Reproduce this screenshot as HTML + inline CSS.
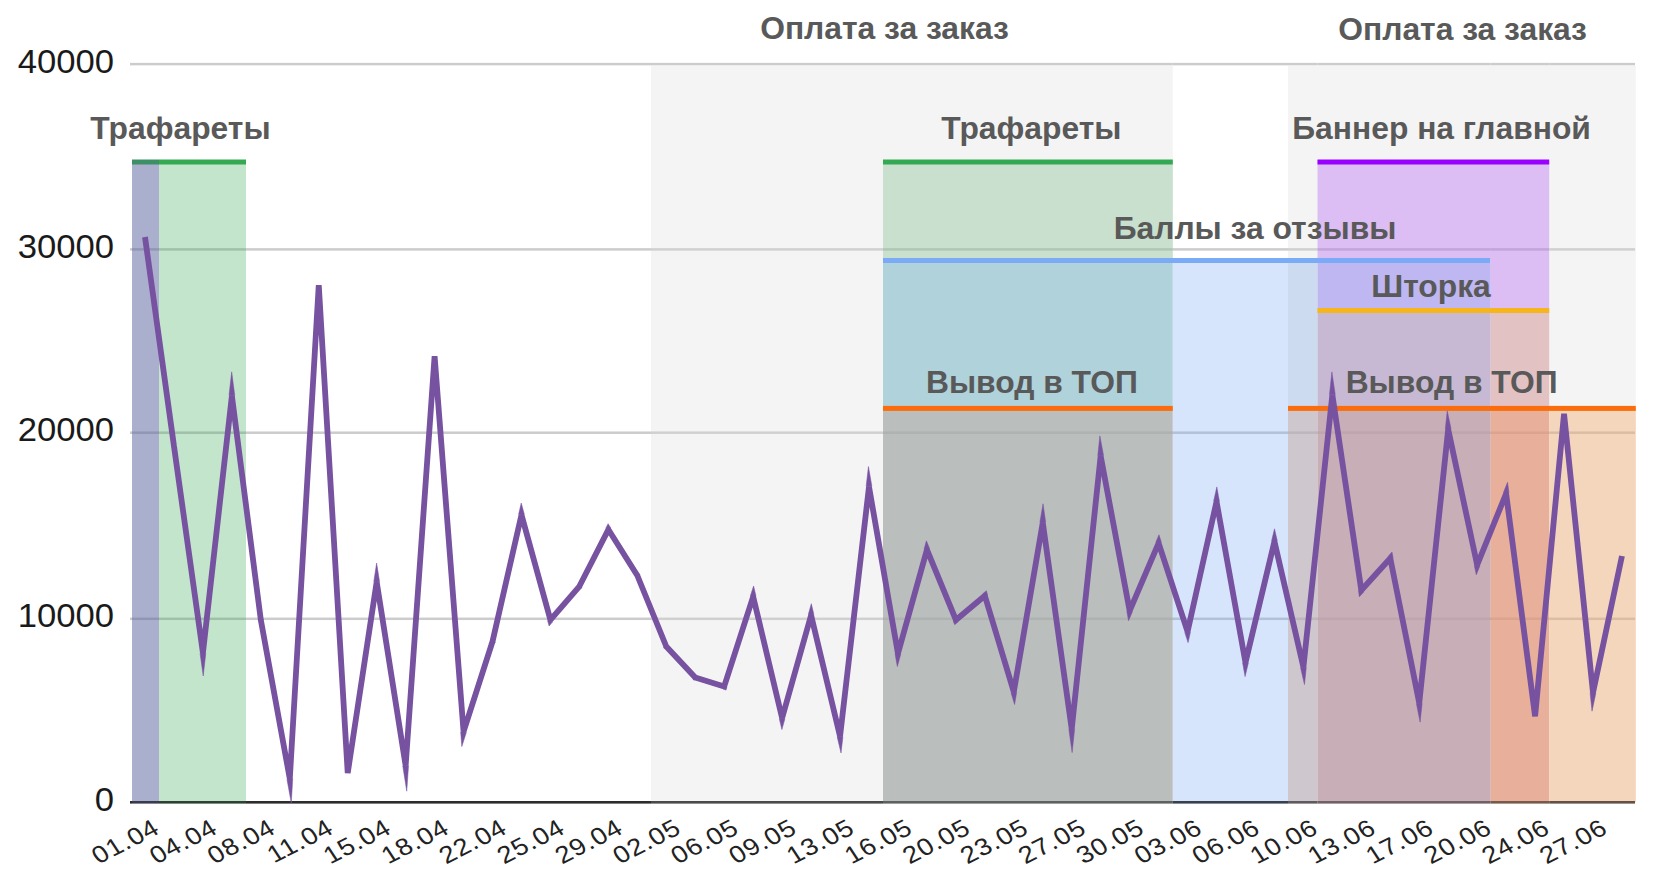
<!DOCTYPE html>
<html><head><meta charset="utf-8"><style>
html,body{margin:0;padding:0;background:#fff;width:1658px;height:877px;overflow:hidden}
svg{display:block}
.ax text{font-family:"Liberation Sans",sans-serif;font-size:33px;fill:#1a1a1a}
.xl text{font-size:24px;letter-spacing:0.75px;fill:#222}
.tt text{font-family:"Liberation Sans",sans-serif;font-size:31.8px;font-weight:bold;fill:#595959}
</style></head><body>
<svg width="1658" height="877" viewBox="0 0 1658 877">
<defs><clipPath id="clip"><rect x="0" y="0" width="1658" height="803"/></clipPath></defs>
<rect width="1658" height="877" fill="#fff"/>
<g><rect x="132" y="162" width="27" height="640" fill="#abafce"/>
<rect x="159" y="162" width="87" height="640" fill="#c3e5cc"/>
<rect x="651" y="66" width="521.8" height="736" fill="#f4f4f4"/>
<rect x="1288" y="66" width="347.79999999999995" height="736" fill="#f4f4f4"/>
<rect x="883" y="162" width="289.79999999999995" height="98" fill="#c8e0cd"/>
<rect x="883" y="260" width="289.79999999999995" height="148" fill="#b0d2db"/>
<rect x="883" y="408" width="289.79999999999995" height="394" fill="#babebd"/>
<rect x="1172.8" y="260" width="115.20000000000005" height="542" fill="#d7e5fc"/>
<rect x="1288" y="260" width="29.5" height="148" fill="#ccdbf0"/>
<rect x="1288" y="408" width="29.5" height="394" fill="#cec7ce"/>
<rect x="1317.5" y="160" width="231.70000000000005" height="100" fill="#dcbdf4"/>
<rect x="1317.5" y="260" width="173.20000000000005" height="50" fill="#bfb7f1"/>
<rect x="1490.7" y="260" width="58.5" height="50" fill="#dcbdf4"/>
<rect x="1317.5" y="310" width="173.20000000000005" height="98" fill="#c7b9d3"/>
<rect x="1317.5" y="408" width="173.20000000000005" height="394" fill="#c8aeb6"/>
<rect x="1490.7" y="310" width="58.5" height="98" fill="#e3c2c4"/>
<rect x="1490.7" y="408" width="58.5" height="394" fill="#e8b09a"/>
<rect x="1549.2" y="408" width="86.59999999999991" height="394" fill="#f4d6bd"/></g>
<g><rect x="130" y="62.85" width="2" height="2.5" fill="rgb(204, 204, 204)"/>
<rect x="132" y="62.85" width="27" height="2.5" fill="rgb(204, 204, 204)"/>
<rect x="159" y="62.85" width="87" height="2.5" fill="rgb(204, 204, 204)"/>
<rect x="246" y="62.85" width="405" height="2.5" fill="rgb(204, 204, 204)"/>
<rect x="651" y="62.85" width="232" height="2.5" fill="rgb(204, 204, 204)"/>
<rect x="883" y="62.85" width="289.79999999999995" height="2.5" fill="rgb(204, 204, 204)"/>
<rect x="1172.8" y="62.85" width="115.20000000000005" height="2.5" fill="rgb(204, 204, 204)"/>
<rect x="1288" y="62.85" width="29.5" height="2.5" fill="rgb(204, 204, 204)"/>
<rect x="1317.5" y="62.85" width="173.20000000000005" height="2.5" fill="rgb(204, 204, 204)"/>
<rect x="1490.7" y="62.85" width="58.5" height="2.5" fill="rgb(204, 204, 204)"/>
<rect x="1549.2" y="62.85" width="85.79999999999995" height="2.5" fill="rgb(204, 204, 204)"/>
<rect x="130" y="248.15" width="2" height="2.5" fill="rgb(204, 204, 204)"/>
<rect x="132" y="248.15" width="27" height="2.5" fill="rgb(146, 150, 181)"/>
<rect x="159" y="248.15" width="87" height="2.5" fill="rgb(159, 193, 168)"/>
<rect x="246" y="248.15" width="405" height="2.5" fill="rgb(204, 204, 204)"/>
<rect x="651" y="248.15" width="232" height="2.5" fill="rgb(208, 208, 208)"/>
<rect x="883" y="248.15" width="289.79999999999995" height="2.5" fill="rgb(175, 199, 180)"/>
<rect x="1172.8" y="248.15" width="115.20000000000005" height="2.5" fill="rgb(204, 204, 204)"/>
<rect x="1288" y="248.15" width="29.5" height="2.5" fill="rgb(208, 208, 208)"/>
<rect x="1317.5" y="248.15" width="173.20000000000005" height="2.5" fill="rgb(195, 164, 219)"/>
<rect x="1490.7" y="248.15" width="58.5" height="2.5" fill="rgb(195, 164, 219)"/>
<rect x="1549.2" y="248.15" width="85.79999999999995" height="2.5" fill="rgb(208, 208, 208)"/>
<rect x="130" y="431.45" width="2" height="2.5" fill="rgb(204, 204, 204)"/>
<rect x="132" y="431.45" width="27" height="2.5" fill="rgb(146, 150, 181)"/>
<rect x="159" y="431.45" width="87" height="2.5" fill="rgb(159, 193, 168)"/>
<rect x="246" y="431.45" width="405" height="2.5" fill="rgb(204, 204, 204)"/>
<rect x="651" y="431.45" width="232" height="2.5" fill="rgb(208, 208, 208)"/>
<rect x="883" y="431.45" width="289.79999999999995" height="2.5" fill="rgb(174, 178, 177)"/>
<rect x="1172.8" y="431.45" width="115.20000000000005" height="2.5" fill="rgb(179, 193, 216)"/>
<rect x="1288" y="431.45" width="29.5" height="2.5" fill="rgb(189, 182, 189)"/>
<rect x="1317.5" y="431.45" width="173.20000000000005" height="2.5" fill="rgb(191, 165, 173)"/>
<rect x="1490.7" y="431.45" width="58.5" height="2.5" fill="rgb(220, 164, 142)"/>
<rect x="1549.2" y="431.45" width="85.79999999999995" height="2.5" fill="rgb(219, 189, 164)"/>
<rect x="130" y="617.55" width="2" height="2.5" fill="rgb(204, 204, 204)"/>
<rect x="132" y="617.55" width="27" height="2.5" fill="rgb(146, 150, 181)"/>
<rect x="159" y="617.55" width="87" height="2.5" fill="rgb(159, 193, 168)"/>
<rect x="246" y="617.55" width="405" height="2.5" fill="rgb(204, 204, 204)"/>
<rect x="651" y="617.55" width="232" height="2.5" fill="rgb(208, 208, 208)"/>
<rect x="883" y="617.55" width="289.79999999999995" height="2.5" fill="rgb(174, 178, 177)"/>
<rect x="1172.8" y="617.55" width="115.20000000000005" height="2.5" fill="rgb(179, 193, 216)"/>
<rect x="1288" y="617.55" width="29.5" height="2.5" fill="rgb(189, 182, 189)"/>
<rect x="1317.5" y="617.55" width="173.20000000000005" height="2.5" fill="rgb(191, 165, 173)"/>
<rect x="1490.7" y="617.55" width="58.5" height="2.5" fill="rgb(220, 164, 142)"/>
<rect x="1549.2" y="617.55" width="85.79999999999995" height="2.5" fill="rgb(219, 189, 164)"/>
<rect x="130" y="801.00" width="2" height="2.6" fill="rgb(45, 45, 45)"/>
<rect x="132" y="801.00" width="27" height="2.6" fill="rgb(58, 60, 77)"/>
<rect x="159" y="801.00" width="87" height="2.6" fill="rgb(47, 65, 52)"/>
<rect x="246" y="801.00" width="405" height="2.6" fill="rgb(45, 45, 45)"/>
<rect x="651" y="801.00" width="232" height="2.6" fill="rgb(74, 74, 74)"/>
<rect x="883" y="801.00" width="289.79999999999995" height="2.6" fill="rgb(95, 97, 97)"/>
<rect x="1172.8" y="801.00" width="115.20000000000005" height="2.6" fill="rgb(58, 65, 78)"/>
<rect x="1288" y="801.00" width="29.5" height="2.6" fill="rgb(94, 90, 94)"/>
<rect x="1317.5" y="801.00" width="173.20000000000005" height="2.6" fill="rgb(111, 97, 101)"/>
<rect x="1490.7" y="801.00" width="58.5" height="2.6" fill="rgb(120, 90, 77)"/>
<rect x="1549.2" y="801.00" width="85.79999999999995" height="2.6" fill="rgb(98, 81, 68)"/></g>
<g><rect x="132" y="159.5" width="27" height="5" fill="#3d8f66"/>
<rect x="159" y="159.5" width="87" height="5" fill="#34a853"/>
<rect x="883" y="159.5" width="289.79999999999995" height="5" fill="#34a853"/>
<rect x="883" y="258.0" width="607" height="5" fill="#7baaf7"/>
<rect x="1317.5" y="159.5" width="231.70000000000005" height="5" fill="#9900ff"/>
<rect x="1317.5" y="308.0" width="231.70000000000005" height="5" fill="#f6b51a"/>
<rect x="883" y="405.9" width="289.79999999999995" height="5" fill="#fb6d0c"/>
<rect x="1288" y="405.9" width="347.79999999999995" height="5" fill="#fb6d0c"/></g>
<g clip-path="url(#clip)"><polyline points="145.00,237.00 173.96,446.00 202.92,652.86 231.88,395.95 260.84,620.00 289.80,778.73 318.76,285.07 347.72,772.97 376.68,581.97 405.64,765.62 434.60,356.32 463.56,731.65 492.52,641.50 521.48,514.87 550.44,619.98 579.40,586.30 608.36,529.56 637.32,575.50 666.28,646.50 695.24,677.50 724.20,686.47 753.16,596.68 782.12,718.08 811.08,615.22 840.04,736.38 869.00,486.74 897.96,653.45 926.92,549.69 955.88,619.94 984.84,595.74 1013.80,691.88 1042.76,522.64 1071.72,728.89 1100.68,455.91 1129.64,610.78 1158.60,543.03 1187.56,631.64 1216.52,501.59 1245.48,662.46 1274.44,541.48 1303.40,667.11 1332.36,394.87 1361.32,590.28 1390.28,558.28 1419.24,702.93 1448.20,429.29 1477.16,565.00 1506.12,493.55 1535.08,716.33 1564.04,413.80 1593.00,692.59 1621.96,556.00" fill="none" stroke="#7652a0" stroke-width="5.8" stroke-linejoin="bevel"/>
<g fill="#7652a0" stroke="#7652a0" stroke-width="0.5"><polygon points="173.96,446.00 171.09,446.40 171.09,446.40 171.09,446.40"/>
<polygon points="202.92,652.86 200.05,653.27 203.23,676.00 205.80,653.19"/>
<polygon points="231.88,395.95 229.00,395.62 231.68,371.80 234.76,395.57"/>
<polygon points="260.84,620.00 257.96,620.37 257.97,620.45 257.99,620.52"/>
<polygon points="289.80,778.73 286.95,779.25 291.28,803.00 292.70,778.90"/>
<polygon points="376.68,581.97 373.81,581.54 376.62,563.00 379.54,581.52"/>
<polygon points="405.64,765.62 402.78,766.07 406.74,791.20 408.53,765.83"/>
<polygon points="463.56,731.65 460.67,731.88 461.80,746.60 466.32,732.54"/>
<polygon points="492.52,641.50 495.28,642.39 495.32,642.27 495.35,642.15"/>
<polygon points="521.48,514.87 518.65,514.22 521.22,503.00 524.28,514.10"/>
<polygon points="550.44,619.98 547.64,620.75 549.09,626.00 552.64,621.87"/>
<polygon points="579.40,586.30 581.60,588.19 581.83,587.93 581.98,587.62"/>
<polygon points="608.36,529.56 605.78,528.24 608.09,523.70 610.81,528.01"/>
<polygon points="637.32,575.50 639.77,573.95 639.91,574.17 640.01,574.40"/>
<polygon points="666.28,646.50 663.59,647.60 663.80,648.09 664.16,648.48"/>
<polygon points="695.24,677.50 693.12,679.48 693.65,680.04 694.38,680.27"/>
<polygon points="724.20,686.47 723.34,689.24 726.08,690.09 726.96,687.36"/>
<polygon points="753.16,596.68 750.40,595.79 753.58,585.94 755.98,596.01"/>
<polygon points="782.12,718.08 779.30,718.75 781.89,729.60 784.91,718.86"/>
<polygon points="811.08,615.22 808.29,614.43 811.31,603.70 813.90,614.54"/>
<polygon points="840.04,736.38 837.22,737.05 841.03,753.00 842.92,736.71"/>
<polygon points="869.00,486.74 866.12,486.40 868.43,466.50 871.86,486.24"/>
<polygon points="897.96,653.45 895.10,653.95 897.30,666.60 900.75,654.23"/>
<polygon points="926.92,549.69 924.13,548.91 926.39,540.80 929.60,548.59"/>
<polygon points="955.88,619.94 953.20,621.04 954.71,624.70 957.74,622.17"/>
<polygon points="984.84,595.74 982.98,593.52 986.35,590.70 987.62,594.90"/>
<polygon points="1013.80,691.88 1011.02,692.72 1014.58,704.53 1016.66,692.37"/>
<polygon points="1042.76,522.64 1039.90,522.16 1043.04,503.80 1045.63,522.24"/>
<polygon points="1071.72,728.89 1068.85,729.29 1072.12,752.60 1074.60,729.20"/>
<polygon points="1100.68,455.91 1097.80,455.60 1099.89,435.89 1103.53,455.38"/>
<polygon points="1129.64,610.78 1126.79,611.32 1128.55,620.72 1132.31,611.92"/>
<polygon points="1158.60,543.03 1155.93,541.89 1158.96,534.80 1161.36,542.13"/>
<polygon points="1187.56,631.64 1184.80,632.54 1188.09,642.60 1190.39,632.27"/>
<polygon points="1216.52,501.59 1213.69,500.96 1216.82,486.90 1219.37,501.08"/>
<polygon points="1245.48,662.46 1242.63,662.98 1245.08,676.60 1248.30,663.14"/>
<polygon points="1274.44,541.48 1271.62,540.80 1274.49,528.80 1277.27,540.83"/>
<polygon points="1303.40,667.11 1300.57,667.76 1304.46,684.60 1306.28,667.42"/>
<polygon points="1332.36,394.87 1329.48,394.56 1331.89,371.90 1335.23,394.44"/>
<polygon points="1361.32,590.28 1358.45,590.70 1359.35,596.77 1363.47,592.22"/>
<polygon points="1390.28,558.28 1388.13,556.33 1391.99,552.06 1393.12,557.71"/>
<polygon points="1419.24,702.93 1416.40,703.50 1420.12,722.13 1422.12,703.24"/>
<polygon points="1448.20,429.29 1445.32,428.99 1447.23,410.87 1451.04,428.69"/>
<polygon points="1477.16,565.00 1474.32,565.61 1476.30,574.86 1479.85,566.09"/>
<polygon points="1506.12,493.55 1503.43,492.46 1507.57,482.24 1509.00,493.17"/>
<polygon points="1593.00,692.59 1590.12,692.89 1592.02,711.20 1595.84,693.19"/></g></g>
<g class="tt"><text x="884.5" y="39.3" text-anchor="middle">Оплата за заказ</text>
<text x="1462.6" y="39.5" text-anchor="middle">Оплата за заказ</text>
<text x="180.45" y="139.2" text-anchor="middle">Трафареты</text>
<text x="1031.3" y="139.2" text-anchor="middle">Трафареты</text>
<text x="1441.6" y="138.8" text-anchor="middle">Баннер на главной</text>
<text x="1255" y="239" text-anchor="middle">Баллы за отзывы</text>
<text x="1431" y="296.9" text-anchor="middle">Шторка</text>
<text x="1031.9" y="392.9" text-anchor="middle">Вывод в ТОП</text>
<text x="1451.6" y="392.6" text-anchor="middle">Вывод в ТОП</text></g>
<g class="ax"><text transform="translate(114,810.5) scale(1.05,1)" text-anchor="end">0</text>
<text transform="translate(114,627.3) scale(1.05,1)" text-anchor="end">10000</text>
<text transform="translate(114,441.2) scale(1.05,1)" text-anchor="end">20000</text>
<text transform="translate(114,257.9) scale(1.05,1)" text-anchor="end">30000</text>
<text transform="translate(114,72.6) scale(1.05,1)" text-anchor="end">40000</text>
<g class="xl"><text transform="translate(161.5,832.5) scale(1.14,1) rotate(-30)" text-anchor="end">01.04</text>
<text transform="translate(219.4,832.5) scale(1.14,1) rotate(-30)" text-anchor="end">04.04</text>
<text transform="translate(277.3,832.5) scale(1.14,1) rotate(-30)" text-anchor="end">08.04</text>
<text transform="translate(335.3,832.5) scale(1.14,1) rotate(-30)" text-anchor="end">11.04</text>
<text transform="translate(393.2,832.5) scale(1.14,1) rotate(-30)" text-anchor="end">15.04</text>
<text transform="translate(451.1,832.5) scale(1.14,1) rotate(-30)" text-anchor="end">18.04</text>
<text transform="translate(509.0,832.5) scale(1.14,1) rotate(-30)" text-anchor="end">22.04</text>
<text transform="translate(566.9,832.5) scale(1.14,1) rotate(-30)" text-anchor="end">25.04</text>
<text transform="translate(624.9,832.5) scale(1.14,1) rotate(-30)" text-anchor="end">29.04</text>
<text transform="translate(682.8,832.5) scale(1.14,1) rotate(-30)" text-anchor="end">02.05</text>
<text transform="translate(740.7,832.5) scale(1.14,1) rotate(-30)" text-anchor="end">06.05</text>
<text transform="translate(798.6,832.5) scale(1.14,1) rotate(-30)" text-anchor="end">09.05</text>
<text transform="translate(856.5,832.5) scale(1.14,1) rotate(-30)" text-anchor="end">13.05</text>
<text transform="translate(914.5,832.5) scale(1.14,1) rotate(-30)" text-anchor="end">16.05</text>
<text transform="translate(972.4,832.5) scale(1.14,1) rotate(-30)" text-anchor="end">20.05</text>
<text transform="translate(1030.3,832.5) scale(1.14,1) rotate(-30)" text-anchor="end">23.05</text>
<text transform="translate(1088.2,832.5) scale(1.14,1) rotate(-30)" text-anchor="end">27.05</text>
<text transform="translate(1146.1,832.5) scale(1.14,1) rotate(-30)" text-anchor="end">30.05</text>
<text transform="translate(1204.1,832.5) scale(1.14,1) rotate(-30)" text-anchor="end">03.06</text>
<text transform="translate(1262.0,832.5) scale(1.14,1) rotate(-30)" text-anchor="end">06.06</text>
<text transform="translate(1319.9,832.5) scale(1.14,1) rotate(-30)" text-anchor="end">10.06</text>
<text transform="translate(1377.8,832.5) scale(1.14,1) rotate(-30)" text-anchor="end">13.06</text>
<text transform="translate(1435.7,832.5) scale(1.14,1) rotate(-30)" text-anchor="end">17.06</text>
<text transform="translate(1493.7,832.5) scale(1.14,1) rotate(-30)" text-anchor="end">20.06</text>
<text transform="translate(1551.6,832.5) scale(1.14,1) rotate(-30)" text-anchor="end">24.06</text>
<text transform="translate(1609.5,832.5) scale(1.14,1) rotate(-30)" text-anchor="end">27.06</text></g></g>
</svg>
</body></html>
